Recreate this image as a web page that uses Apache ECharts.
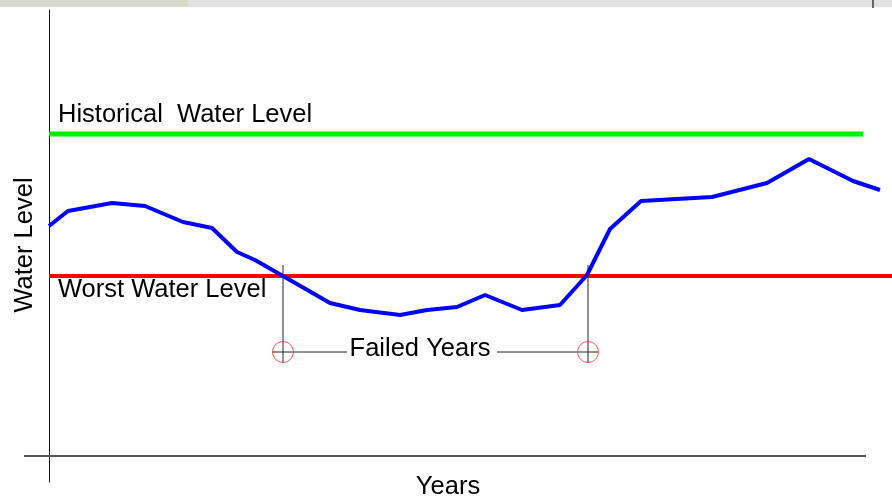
<!DOCTYPE html>
<html>
<head>
<meta charset="utf-8">
<title>Water Level</title>
<script src="https://cdn.jsdelivr.net/npm/echarts@6/dist/echarts.min.js"></script>
<style>
  html, body { margin: 0; padding: 0; background: #fff; }
  #chart { width: 892px; height: 496px; }
</style>
</head>
<body>
<div id="chart"></div>
<script>
// 年份 (x) 和水位 (y)
const years = [0, 1.9, 6.3, 9.6, 13.4, 16.3, 18.8, 20.6, 28.1, 31.1, 35.1, 37.8, 40.8,
  43.6, 47.3, 51.1, 53.8, 56.1, 59.2, 66.3, 71.8, 76.0, 80.4, 83.1]
const waterLevel = [115, 122.5, 126.5, 125, 117, 114, 102, 98, 76.5, 73, 70.5, 73, 74.5,
  80.5, 73, 75.5, 90.5, 113.5, 127.5, 129.5, 136.5, 148.5, 137.5, 133]

const historicalLevel = 161
const historicalRange = [0, 81.4]
const worstLevel = 90
const worstRange = [0, 84.3]

// 横轴范围
const baseRange = [-2.5, 81.7]

// 失败年份: 起止年份
const failedYears = [23.4, 53.9]
const markerLevel = 52
const guideTop = 95.5
const guideBottom = 46.5
const leftDash = [22.3, 29.8]
const rightDash = [44.8, 54.9]

const labelFont = '25.5px "Liberation Sans", Arial, sans-serif'

const chart = echarts.init(document.getElementById('chart'))

const blackLine = { color: '#222', width: 1 }

let option = {
  backgroundColor: '#fff',
  animation: false,
  grid: {
    left: 24,
    right: 0,
    top: 10,
    bottom: 14,
    outerBoundsMode: 'none',
  },
  xAxis: {
    type: 'value',
    min: -2.5,
    max: 84.3,
    axisLine: { show: false, onZero: true },
    axisTick: { show: false },
    axisLabel: { show: false },
    splitLine: { show: false },
  },
  yAxis: {
    type: 'value',
    min: -13,
    max: 223,
    axisLine: { show: true, onZero: true, lineStyle: { color: '#111', width: 1 } },
    axisTick: { show: false },
    axisLabel: { show: false },
    splitLine: { show: false },
  },
  series: [
    // 横轴
    {
      type: 'line',
      symbol: 'none',
      lineStyle: { color: '#555', width: 2 },
      data: baseRange.map(x => [x, 0]),
    },
    // 历史水位
    {
      type: 'line',
      symbol: 'none',
      lineStyle: { color: '#00f000', width: 5 },
      data: historicalRange.map(x => [x, historicalLevel]),
    },
    // 最低水位
    {
      type: 'line',
      symbol: 'none',
      lineStyle: { color: '#ff0000', width: 4 },
      data: worstRange.map(x => [x, worstLevel]),
      z: 3,
    },
    // 竖直辅助线
    ...failedYears.map(x => ({
      type: 'line',
      symbol: 'none',
      lineStyle: blackLine,
      data: [[x, guideTop], [x, guideBottom]],
      z: 1,
    })),
    // 水平辅助线
    {
      type: 'line',
      symbol: 'none',
      lineStyle: blackLine,
      data: leftDash.map(x => [x, markerLevel]),
      z: 1,
    },
    {
      type: 'line',
      symbol: 'none',
      lineStyle: blackLine,
      data: rightDash.map(x => [x, markerLevel]),
      z: 1,
    },
    // 水位曲线
    {
      type: 'line',
      symbol: 'none',
      lineStyle: { color: '#0000ff', width: 4 },
      data: years.map((x, i) => [x, waterLevel[i]]),
      z: 4,
    },
    // 圆圈标记
    {
      type: 'scatter',
      symbol: 'circle',
      symbolSize: 21,
      itemStyle: { color: 'rgba(0,0,0,0)', borderColor: '#ff3030', borderWidth: 1 },
      data: failedYears.map(x => [x, markerLevel]),
      z: 2,
    },
  ],
  graphic: [
    // 顶部窗口条
    { type: 'rect', shape: { x: 0, y: 0, width: 892, height: 7 }, style: { fill: '#dfe5dc' } },
    { type: 'rect', shape: { x: 0, y: 0, width: 188, height: 7 }, style: { fill: '#d3dbcb' } },
    { type: 'rect', shape: { x: 872, y: 0, width: 2, height: 8 }, style: { fill: '#666' } },
    {
      type: 'text', x: 58, y: 115,
      style: { text: 'Historical  Water Level', font: labelFont, fill: '#000', verticalAlign: 'middle' },
    },
    {
      type: 'text', x: 58, y: 290,
      style: { text: 'Worst Water Level', font: labelFont, fill: '#000', verticalAlign: 'middle' },
    },
    {
      type: 'text', x: 420, y: 349,
      style: { text: 'Failed Years', font: labelFont, fill: '#000', align: 'center', verticalAlign: 'middle' },
    },
    // 坐标轴名称
    {
      type: 'text', x: 448, y: 487,
      style: { text: 'Years', font: labelFont, fill: '#000', align: 'center', verticalAlign: 'middle' },
    },
    {
      type: 'text', x: 25, y: 245, rotation: Math.PI / 2,
      style: { text: 'Water Level', font: labelFont, fill: '#000', align: 'center', verticalAlign: 'middle' },
    },
  ],
}
chart.setOption(option)
</script>
</body>
</html>
